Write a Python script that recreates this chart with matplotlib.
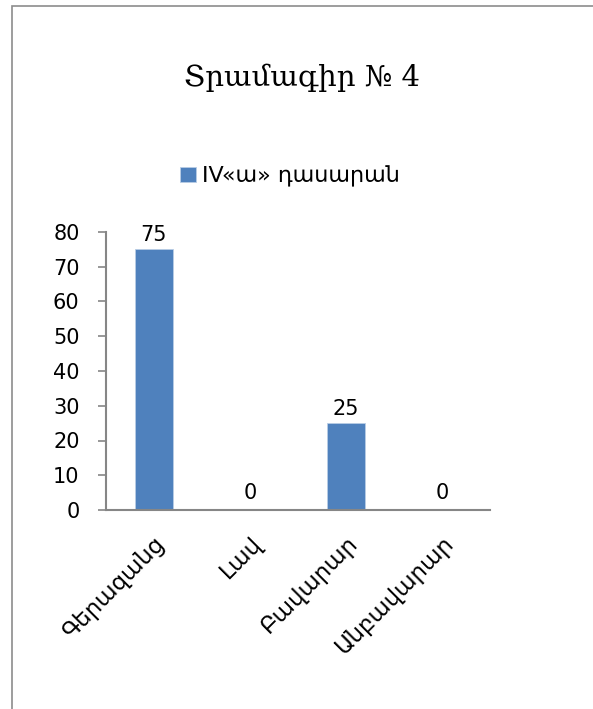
import matplotlib.pyplot as plt
from matplotlib.patches import Rectangle

categories = ["Գերազանց", "Լավ", "Բավարար", "Անբավարար"]
values = [75, 0, 25, 0]
series_name = "IV«ա» դասարան"
title = "Տրամագիր № 4"
yticks = [0, 10, 20, 30, 40, 50, 60, 70, 80]

bar_color = "#4f81bd"
axis_color = "#868686"

fig = plt.figure(figsize=(5.93, 7.09), dpi=100)
fig.patch.set_facecolor("white")

# frame around the chart area
fig.patches.append(Rectangle((12 / 593, -0.1), 1.0, 1.1 - 6 / 709,
                             transform=fig.transFigure, fill=False,
                             edgecolor="#8c8c8c", linewidth=1.2))

ax = fig.add_axes([106 / 593, 1 - 510 / 709, 384 / 593, 278 / 709])
x = range(len(categories))
bars = ax.bar(x, values, width=0.4, color=bar_color, label=series_name,
              edgecolor="#b9cde5", linewidth=0.6)

ax.set_xlim(-0.5, 3.5)
ax.set_ylim(0, 80)
ax.set_yticks(yticks)
ax.set_yticklabels([str(v) for v in yticks], fontsize=15)
ax.set_xticks(list(x))
ax.set_xticklabels(categories, rotation=45, ha="right", rotation_mode="anchor",
                   fontsize=16.5)
ax.tick_params(axis="x", length=0, pad=16)
ax.tick_params(axis="y", length=6, color=axis_color, width=1.2, pad=13)

for side in ["top", "right"]:
    ax.spines[side].set_visible(False)
for side in ["left", "bottom"]:
    ax.spines[side].set_color(axis_color)
    ax.spines[side].set_linewidth(1.5)

for i, v in enumerate(values):
    off = 3 if v > 0 else 5
    ax.annotate(str(v), (i, v), xytext=(0, off), textcoords="offset points",
                ha="center", va="bottom", fontsize=15)

fig.text(302 / 593, 1 - 78 / 709, title, ha="center", va="center",
         fontsize=21, family=["DejaVu Serif"])

ax.legend(loc="center", bbox_to_anchor=(290 / 593, 1 - 176 / 709),
          bbox_transform=fig.transFigure, frameon=False, fontsize=16,
          handlelength=0.7, handleheight=0.7, handletextpad=0.3)

fig.savefig("out.png", dpi=100)
